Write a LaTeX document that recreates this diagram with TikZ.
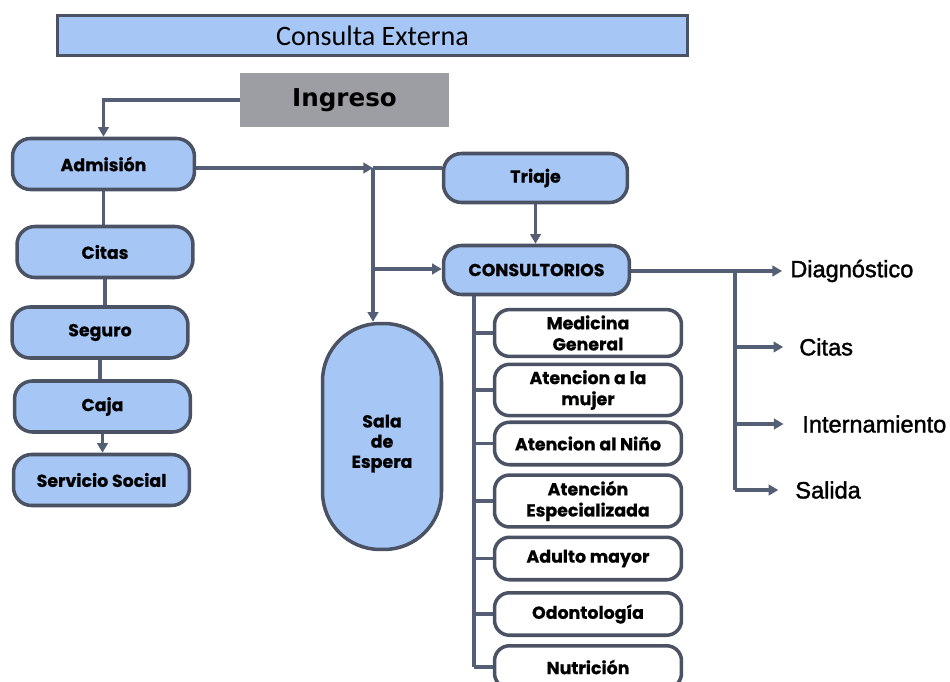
\documentclass[tikz,border=0pt]{standalone}
\usepackage{fontspec}
\setmainfont{Liberation Sans}
\newfontfamily\geofont[BoldFeatures={FakeBold=0.6}]{Poppins}
\newfontfamily\titlefont{Carlito}
\newfontfamily\heavyfont{DejaVu Sans}
\newfontfamily\outfont[UprightFeatures={FakeBold=1.6}]{Liberation Sans}
\usetikzlibrary{arrows.meta,backgrounds}

\definecolor{boxblue}{RGB}{166,199,245}
\definecolor{edgegray}{RGB}{74,82,100}
\definecolor{wiregray}{RGB}{84,94,116}
\definecolor{ingray}{RGB}{156,158,164}

\tikzset{
  boxtext/.style={font=\geofont\bfseries\fontsize{9.9}{12}\selectfont},
  mainbox/.style={boxtext, draw=edgegray, line width=2pt, fill=boxblue,
    rounded corners=0.36cm, minimum width=3.52cm, minimum height=1.02cm, align=center},
  subbox/.style={boxtext, draw=edgegray, line width=2pt, fill=white,
    rounded corners=0.3cm, minimum width=3.74cm, minimum height=0.85cm, align=center},
  wire/.style={draw=wiregray, line width=2.1pt},
  tip/.style={-{Triangle[length=5.5pt,width=6pt]}},
  outlabel/.style={anchor=west, inner sep=0pt, font=\outfont\fontsize{13.4}{16}\selectfont},
}

\begin{document}
\begin{tikzpicture}[x=0.02cm, y=-0.02cm]
\useasboundingbox (0,0) rectangle (950,682);

% header and entry
\node[draw=edgegray, line width=1.5pt, fill=boxblue, minimum width=12.6cm, minimum height=0.8cm,
      font=\titlefont\fontsize{16}{19}\selectfont] (title) at (372.5,35.5) {Consulta Externa};
\node[fill=ingray, minimum width=4.18cm, minimum height=1.08cm,
      font=\heavyfont\bfseries\fontsize{14}{16}\selectfont] (ing) at (344.5,100) {Ingreso};

% admission column
\node[mainbox, minimum width=3.64cm] (adm) at (103.5,164) {Admisión};
\node[mainbox] (cit) at (105,252) {Citas};
\node[mainbox] (seg) at (100,332.5) {Seguro};
\node[mainbox] (caj) at (102.5,406.5) {Caja};
\node[mainbox] (ser) at (101.5,480) {Servicio Social};

% triage, offices, waiting room
\node[mainbox, minimum width=3.68cm, minimum height=0.98cm] (tri) at (535.5,178) {Triaje};
\node[mainbox, minimum width=3.72cm, minimum height=0.98cm] (con) at (536.5,270) {CONSULTORIOS};
\node[mainbox, minimum width=2.38cm, minimum height=4.52cm, rounded corners=1.15cm,
      label={[boxtext, font=\geofont\bfseries\fontsize{9.9}{11.5}\selectfont,
              align=center, yshift=-4pt]center:{Sala\\de\\Espera}}] (sal) at (382,436.5) {};

% specialties
\node[subbox] (med) at (588,333) {Medicina\\General};
\node[subbox] (muj) at (588,390) {Atencion a la\\mujer};
\node[subbox] (nin) at (588,443.5) {Atencion al Niño};
\node[subbox] (esp) at (588,501) {Atención\\Especializada};
\node[subbox] (adu) at (588,558.5) {Adulto mayor};
\node[subbox] (odo) at (588,614) {Odontología};
\node[subbox] (nut) at (588,667) {Nutrición};

% outcomes
\node[outlabel] (dia) at (790,271) {Diagnóstico};
\node[outlabel] (cto) at (799,347) {Citas};
\node[outlabel] (int) at (802,424) {Internamiento};
\node[outlabel] (sld) at (795,490) {Salida};

% junction points
\coordinate (j1) at (373,168);
\coordinate (j2) at (373,269);
\coordinate (jr) at (735,271);
\coordinate (jk) at (474,667);

\begin{scope}[on background layer]
  \draw[wire, tip] (ing.west) -| (adm.north);
  \draw[wire] (adm.south) -- (adm.south |- cit.north);
  \draw[wire] (cit.south) -- (cit.south |- seg.north);
  \draw[wire] (seg.south) -- (seg.south |- caj.north);
  \draw[wire, tip] (caj.south) -- (caj.south |- ser.north);

  \draw[wire, tip] (adm.east |- j1) -- (j1);
  \draw[wire] (j1) -- (j1 -| tri.west);
  \draw[wire, tip] (j1) -- (j1 |- sal.north);
  \draw[wire, tip] (j2) -- (j2 -| con.west);
  \draw[wire, tip] (tri.south) -- (tri.south |- con.north);

  \draw[wire] (jk |- con.south) -- (jk);
  \foreach \n in {med,muj,nin,esp,adu,odo,nut}
    \draw[wire] (jk |- \n.west) -- (\n.west);

  \draw[wire] (jr) -- (jr |- sld.west);
  \draw[wire, tip, shorten >=4.5pt] (con.east |- dia.west) -- (dia.west);
  \draw[wire, tip, shorten >=9pt] (jr |- cto.west) -- (cto.west);
  \draw[wire, tip, shorten >=10.5pt] (jr |- int.west) -- (int.west);
  \draw[wire, tip, shorten >=9.5pt] (jr |- sld.west) -- (sld.west);
\end{scope}
\end{tikzpicture}
\end{document}
